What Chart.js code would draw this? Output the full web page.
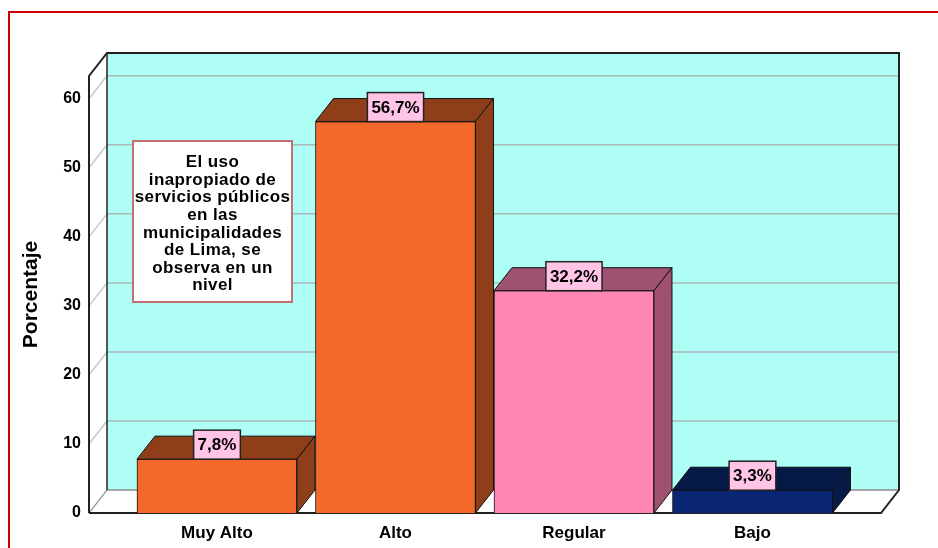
<!DOCTYPE html>
<html>
<head>
<meta charset="utf-8">
<script src="https://cdn.jsdelivr.net/npm/chart.js@4"></script>
<style>
html,body{margin:0;padding:0;background:#fff;}
#wrap{width:938px;height:548px;position:relative;}
</style>
</head>
<body>
<div id="wrap"><canvas id="c" width="938" height="548"></canvas></div>
<script>
const categories = ["Muy Alto", "Alto", "Regular", "Bajo"];
const values = [7.8, 56.7, 32.2, 3.3];
const valueLabels = ["7,8%", "56,7%", "32,2%", "3,3%"];
const yTicks = [0, 10, 20, 30, 40, 50, 60];
const noteLines = ["El uso", "inapropiado de", "servicios públicos", "en las", "municipalidades", "de Lima, se", "observa en un", "nivel"];

const frontColors = ["#F2692B", "#F2692B", "#FF85B4", "#0A2672"];
const darkColors = ["#8F3E1A", "#8F3E1A", "#9E5270", "#061A48"];
const DX = 18, DY = 23;
const FONT = 'Arial, "Liberation Sans", sans-serif';

Chart.defaults.font.family = FONT;
Chart.defaults.color = '#000';

const scene = {
  id: 'scene',
  beforeDraw(chart) {
    const ctx = chart.ctx;
    const xs = chart.scales.x, ys = chart.scales.y;
    const L = xs.left, R = xs.right, T = ys.top, B = ys.bottom;
    ctx.save();
    ctx.fillStyle = '#fff';
    ctx.fillRect(0, 0, chart.width, chart.height);
    ctx.strokeStyle = '#CC0000';
    ctx.lineWidth = 2;
    ctx.strokeRect(9, 12, 960, 600);
    ctx.fillStyle = '#AFFEF5';
    ctx.fillRect(L + DX, T - DY, R - L, B - T);
    ctx.fillStyle = '#fff';
    ctx.beginPath();
    ctx.moveTo(L, T); ctx.lineTo(L + DX, T - DY); ctx.lineTo(L + DX, B - DY); ctx.lineTo(L, B); ctx.closePath();
    ctx.fill();
    ctx.beginPath();
    ctx.moveTo(L, B); ctx.lineTo(L + DX, B - DY); ctx.lineTo(R + DX, B - DY); ctx.lineTo(R, B); ctx.closePath();
    ctx.fill();
    ctx.lineWidth = 1.5;
    yTicks.forEach(v => {
      const yy = ys.getPixelForValue(v);
      ctx.strokeStyle = '#A9B9B7';
      ctx.beginPath();
      ctx.moveTo(L + DX, yy - DY); ctx.lineTo(R + DX, yy - DY);
      ctx.stroke();
      ctx.strokeStyle = '#C8C8C8';
      ctx.beginPath();
      ctx.moveTo(L, yy); ctx.lineTo(L + DX, yy - DY);
      ctx.stroke();
    });
    ctx.strokeStyle = '#8A8A8A';
    ctx.lineWidth = 1;
    ctx.beginPath();
    ctx.moveTo(L + DX, B - DY); ctx.lineTo(R + DX, B - DY);
    ctx.moveTo(L, B); ctx.lineTo(L + DX, B - DY);
    ctx.stroke();
    ctx.strokeStyle = '#222';
    ctx.lineWidth = 2;
    ctx.beginPath();
    ctx.moveTo(L, B); ctx.lineTo(L, T); ctx.lineTo(L + DX, T - DY); ctx.lineTo(R + DX, T - DY); ctx.lineTo(R + DX, B - DY); ctx.lineTo(R, B); ctx.lineTo(L, B);
    ctx.stroke();
    ctx.lineWidth = 1.5;
    ctx.beginPath();
    ctx.moveTo(L + DX, T - DY); ctx.lineTo(L + DX, B - DY);
    ctx.stroke();
    ctx.restore();
  },
  afterDatasetsDraw(chart) {
    const ctx = chart.ctx;
    const meta = chart.getDatasetMeta(0);
    ctx.save();
    meta.data.forEach((el, i) => {
      const p = el.getProps(['x', 'y', 'base', 'width'], true);
      const l = p.x - p.width / 2, r = p.x + p.width / 2;
      ctx.fillStyle = darkColors[i];
      ctx.strokeStyle = '#111';
      ctx.lineWidth = 1;
      ctx.beginPath();
      ctx.moveTo(l, p.y); ctx.lineTo(l + DX, p.y - DY); ctx.lineTo(r + DX, p.y - DY); ctx.lineTo(r, p.y); ctx.closePath();
      ctx.fill(); ctx.stroke();
      ctx.beginPath();
      ctx.moveTo(r, p.y); ctx.lineTo(r + DX, p.y - DY); ctx.lineTo(r + DX, p.base - DY); ctx.lineTo(r, p.base); ctx.closePath();
      ctx.fill(); ctx.stroke();
    });
    ctx.font = 'bold 17px ' + FONT;
    ctx.textAlign = 'center';
    ctx.textBaseline = 'middle';
    meta.data.forEach((el, i) => {
      const p = el.getProps(['x', 'y'], true);
      const t = valueLabels[i];
      const w = ctx.measureText(t).width + 8;
      const h = 29;
      ctx.fillStyle = '#FFC4E6';
      ctx.fillRect(p.x - w / 2, p.y - h, w, h);
      ctx.strokeStyle = '#222';
      ctx.lineWidth = 1.5;
      ctx.strokeRect(p.x - w / 2, p.y - h, w, h);
      ctx.fillStyle = '#000';
      ctx.fillText(t, p.x, p.y - h / 2 + 1);
    });
    const xs = chart.scales.x;
    const bx = xs.left + 44, by = 141, bw = 159, bh = 161;
    ctx.fillStyle = '#fff';
    ctx.fillRect(bx, by, bw, bh);
    ctx.strokeStyle = '#C07272';
    ctx.lineWidth = 2;
    ctx.strokeRect(bx, by, bw, bh);
    ctx.fillStyle = '#000';
    ctx.font = 'bold 17px ' + FONT;
    if ('letterSpacing' in ctx) ctx.letterSpacing = '0.4px';
    noteLines.forEach((ln, k) => {
      ctx.fillText(ln, bx + bw / 2, 162.5 + k * 17.6);
    });
    ctx.restore();
  }
};

new Chart(document.getElementById('c'), {
  type: 'bar',
  data: {
    datasets: [{
      data: categories.map((c, i) => ({ x: i, y: values[i] })),
      backgroundColor: frontColors,
      borderColor: '#111',
      borderWidth: 1,
      barThickness: 160
    }]
  },
  options: {
    responsive: false,
    animation: false,
    events: [],
    layout: { padding: { left: 0, top: 76, right: 57, bottom: 0 } },
    plugins: { legend: { display: false }, tooltip: { enabled: false } },
    scales: {
      x: {
        type: 'linear',
        offset: false,
        bounds: 'data',
        min: -0.717,
        max: 3.72,
        grid: { display: false, drawTicks: false, offset: false },
        border: { display: false },
        afterBuildTicks: s => { s.ticks = categories.map((c, i) => ({ value: i })); },
        afterFit: s => { s.height = 35; },
        ticks: {
          autoSkip: false,
          maxRotation: 0,
          padding: 10,
          font: { size: 17, weight: 'bold' },
          color: '#000',
          callback: v => categories[v]
        }
      },
      y: {
        min: 0,
        max: 63.3,
        grid: { display: false, drawTicks: false },
        border: { display: false },
        afterFit: s => { s.width = 89; },
        ticks: {
          stepSize: 10,
          includeBounds: false,
          padding: 8,
          font: { size: 16, weight: 'bold' },
          color: '#000'
        },
        title: {
          display: true,
          text: 'Porcentaje',
          font: { size: 21, weight: 'bold' },
          color: '#000',
          padding: { top: 19, bottom: 0 }
        }
      }
    }
  },
  plugins: [scene]
});
</script>
</body>
</html>
